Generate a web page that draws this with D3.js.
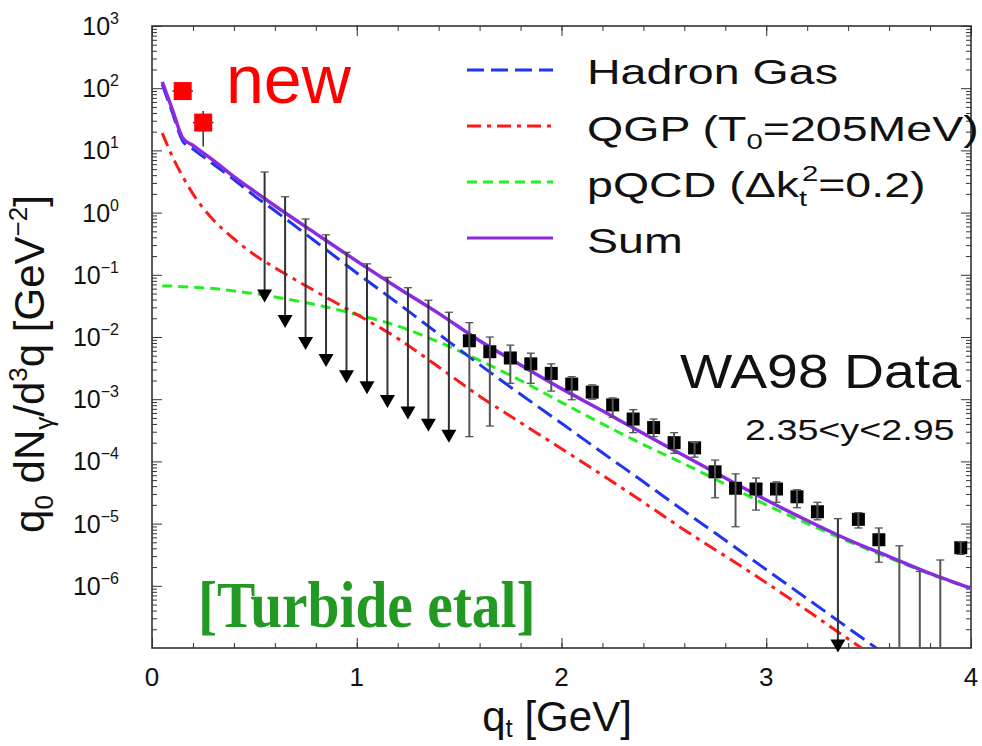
<!DOCTYPE html>
<head>
  <meta charset="utf-8">
  <script src="https://d3js.org/d3.v7.min.js"></script>
  <style>
    body { margin:0; background:#fff; }
    text { font-family: "Liberation Sans", Arial, sans-serif; fill:#111; }
  </style>
</head>
<body>
<script>

/* Data */
/* ==== */

// theory curves
var qGrid     = [0.05, 0.1, 0.15, 0.2, 0.3, 0.4, 0.5, 0.6, 0.8, 1.0, 1.2, 1.4, 1.6, 1.8, 2.0, 2.2, 2.4, 2.6, 2.8, 3.0, 3.2, 3.4, 3.6, 3.8, 4.0];
var hadronGas = [115, 40, 14.1, 10.5, 6.0, 3.4, 1.86, 1.07, 0.34, 0.107, 0.035, 0.0112, 3.6e-3, 1.2e-3, 4.1e-4, 1.38e-4, 4.7e-5, 1.58e-5, 5.4e-6, 1.82e-6, 6.2e-7, 2.1e-7, 7.1e-8];
var qgp       = [19, 7.9, 3.8, 2.0, 0.76, 0.38, 0.21, 0.13, 0.054, 0.023, 9.5e-3, 3.3e-3, 1.12e-3, 4.2e-4, 1.6e-4, 6.0e-5, 2.2e-5, 7.9e-6, 3.0e-6, 1.12e-6, 4.0e-7, 1.4e-7, 5.0e-8];
var pqcd      = [0.066, 0.066, 0.064, 0.063, 0.060, 0.055, 0.050, 0.044, 0.033, 0.023, 0.015, 8.3e-3, 4.2e-3, 2.0e-3, 8.9e-4, 4.0e-4, 1.86e-4, 9.1e-5, 4.3e-5, 2.0e-5, 1.0e-5, 5.2e-6, 2.8e-6, 1.55e-6, 8.9e-7];
var sumCurve  = [126, 45, 15.8, 12.0, 6.9, 3.8, 2.2, 1.29, 0.46, 0.166, 0.062, 0.024, 8.7e-3, 3.55e-3, 1.48e-3, 6.5e-4, 2.8e-4, 1.23e-4, 5.4e-5, 2.4e-5, 1.12e-5, 5.5e-6, 2.95e-6, 1.58e-6, 9.1e-7];

// WA98 points
var dataQ   = [1.55, 1.65, 1.75, 1.85, 1.95, 2.05, 2.15, 2.25, 2.35, 2.45, 2.55, 2.65, 2.75, 2.85, 2.95, 3.05, 3.15, 3.25, 3.45, 3.55, 3.95];
var dataVal = [8.7e-3, 5.8e-3, 4.6e-3, 3.7e-3, 2.6e-3, 1.75e-3, 1.3e-3, 8.1e-4, 4.8e-4, 3.5e-4, 2.0e-4, 1.65e-4, 6.8e-5, 3.7e-5, 3.6e-5, 3.6e-5, 2.7e-5, 1.55e-5, 1.17e-5, 5.5e-6, 4.1e-6];
var dataLo  = [2.5e-4, 3.7e-4, 1.8e-3, 1.8e-3, 1.35e-3, 9.8e-4, 1.0e-3, 5.1e-4, 2.9e-4, 2.5e-4, 1.35e-4, 1.17e-4, 2.6e-5, 8.9e-6, 1.65e-5, 2.2e-5, 1.8e-5, 1.15e-5, 8.5e-6, 2.4e-6, 3.2e-6];
var dataHi  = [1.7e-2, 1.0e-2, 7.4e-3, 5.5e-3, 3.7e-3, 2.3e-3, 1.7e-3, 1.05e-3, 6.8e-4, 4.8e-4, 2.9e-4, 2.0e-4, 1.05e-4, 6.3e-5, 5.4e-5, 4.7e-5, 3.5e-5, 2.2e-5, 1.5e-5, 8.5e-6, 5.1e-6];

// bars whose central value falls below the frame
var openQ  = [3.65, 3.75, 3.85];
var openHi = [4.4e-6, 1.7e-6, 2.6e-6];

// upper limits (arrows)
var limQ   = [0.55, 0.65, 0.75, 0.85, 0.95, 1.05, 1.15, 1.25, 1.35, 1.45, 3.35];
var limTop = [4.5, 1.8, 0.79, 0.44, 0.23, 0.15, 0.091, 0.062, 0.039, 0.025, 1.2e-5];
var limTip = [0.036, 0.014, 0.0062, 0.0033, 0.0018, 0.0012, 7.2e-4, 4.7e-4, 3.0e-4, 2.0e-4, 8.5e-8];

// "new" points
var newQ   = [0.15, 0.25];
var newVal = [90, 28];
var newLo  = [78, 11.5];
var newHi  = [104, 43];
var newDq  = 0.05;

var xMajor = [0, 1, 2, 3, 4];
var yExp   = [3, 2, 1, 0, -1, -2, -3, -4, -5, -6];


/* Set up */
/* ====== */

var width = 982, height = 746;
var L = 152, R = 971, T = 26, B = 648;

var svg = d3.select('body').append('svg')
    .attr('width', width)
    .attr('height', height);

var x = d3.scaleLinear().domain([0, 4]).range([L, R]);
var y = d3.scaleLog().domain([1e-7, 1e3]).range([B, T]);

svg.append('clipPath').attr('id', 'plot')
  .append('rect').attr('x', L).attr('y', T).attr('width', R - L).attr('height', B - T);

var minorX = d3.range(0, 4.001, 0.2);
var minorY = [];
yExp.concat([-7]).forEach(function(e) {
  for (var k = 2; k <= 9; k++) if (e < 3) minorY.push(k * Math.pow(10, e));
});
var majorY = yExp.map(function(e) { return Math.pow(10, e); });

// ticks on all four sides, pointing in
function ticks(axis, tr) {
  var g = svg.append('g').attr('transform', tr).call(axis);
  g.select('.domain').remove();
  g.selectAll('line').attr('stroke', '#333').attr('stroke-width', 1);
  g.selectAll('text').remove();
}
ticks(d3.axisBottom(x).tickValues(xMajor).tickSize(-10), 'translate(0,' + B + ')');
ticks(d3.axisBottom(x).tickValues(minorX).tickSize(-5), 'translate(0,' + B + ')');
ticks(d3.axisTop(x).tickValues(xMajor).tickSize(-10), 'translate(0,' + T + ')');
ticks(d3.axisTop(x).tickValues(minorX).tickSize(-5), 'translate(0,' + T + ')');
ticks(d3.axisLeft(y).tickValues(majorY).tickSize(-10), 'translate(' + L + ',0)');
ticks(d3.axisLeft(y).tickValues(minorY).tickSize(-5), 'translate(' + L + ',0)');
ticks(d3.axisRight(y).tickValues(majorY).tickSize(-10), 'translate(' + R + ',0)');
ticks(d3.axisRight(y).tickValues(minorY).tickSize(-5), 'translate(' + R + ',0)');

svg.append('rect')
    .attr('x', L).attr('y', T).attr('width', R - L).attr('height', B - T)
    .attr('fill', 'none').attr('stroke', '#333').attr('stroke-width', 1.6);

// tick labels
svg.selectAll('.xlab').data(xMajor).enter().append('text')
    .attr('x', function(d) { return x(d); })
    .attr('y', 686)
    .attr('text-anchor', 'middle')
    .attr('font-size', 26)
    .text(function(d) { return d; });

var ylab = svg.selectAll('.ylab').data(yExp).enter().append('text')
    .attr('x', 119)
    .attr('y', function(d) { return y(Math.pow(10, d)) + 9; })
    .attr('text-anchor', 'end')
    .attr('font-size', 25);
ylab.append('tspan').text('10');
ylab.append('tspan').attr('font-size', 16).attr('dy', -11)
    .text(function(d) { return d < 0 ? '\u2212' + (-d) : d; });

// axis titles
var xt = svg.append('text').attr('x', 557).attr('y', 731)
    .attr('text-anchor', 'middle').attr('font-size', 42);
xt.append('tspan').text('q');
xt.append('tspan').attr('font-size', 26).attr('dy', 6).text('t');
xt.append('tspan').attr('dy', -6).text(' [GeV]');

var yt = svg.append('text').attr('transform', 'translate(44,364) rotate(-90)')
    .attr('text-anchor', 'middle').attr('font-size', 42);
yt.append('tspan').text('q');
yt.append('tspan').attr('font-size', 26).attr('dy', 9).text('0');
yt.append('tspan').attr('dy', -9).text(' dN');
yt.append('tspan').attr('font-size', 26).attr('dy', 9).text('\u03b3');
yt.append('tspan').attr('dy', -9).text('/d');
yt.append('tspan').attr('font-size', 26).attr('dy', -17).text('3');
yt.append('tspan').attr('dy', 17).text('q [GeV');
yt.append('tspan').attr('font-size', 26).attr('dy', -17).text('\u22122');
yt.append('tspan').attr('dy', 17).text(']');


/* Curves */
/* ====== */

var styles = [
  {vals: pqcd,      color: '#22ee22', dash: '10,6'},
  {vals: qgp,       color: '#ff1a1a', dash: '14,6,4,6'},
  {vals: hadronGas, color: '#1f35f0', dash: '17,7'},
  {vals: sumCurve,  color: '#8a2be2', dash: null}
];

var line = d3.line()
    .x(function(d) { return x(d[0]); })
    .y(function(d) { return y(d[1]); })
    .curve(d3.curveMonotoneX);

var curves = svg.append('g').attr('clip-path', 'url(#plot)');
styles.forEach(function(s) {
  var pts = s.vals.map(function(v, i) { return [qGrid[i], v]; });
  curves.append('path')
      .attr('d', line(pts))
      .attr('fill', 'none')
      .attr('stroke', s.color)
      .attr('stroke-width', s.dash ? 3 : 3.5)
      .attr('stroke-dasharray', s.dash);
});


/* Data points */
/* =========== */

var pts = svg.append('g');
var bar = '#555';

function cap(g, q, v) {
  g.append('line').attr('x1', x(q) - 4).attr('x2', x(q) + 4)
      .attr('y1', y(v)).attr('y2', y(v))
      .attr('stroke', bar).attr('stroke-width', 1.3);
}

// upper limits
limQ.forEach(function(q, i) {
  pts.append('line')
      .attr('x1', x(q)).attr('x2', x(q))
      .attr('y1', y(limTop[i])).attr('y2', y(limTip[i]) - 8)
      .attr('stroke', '#333').attr('stroke-width', 2);
  cap(pts, q, limTop[i]);
  var tx = x(q), ty = y(limTip[i]);
  pts.append('path')
      .attr('d', 'M' + (tx - 7.5) + ',' + (ty - 13) + 'L' + (tx + 7.5) + ',' + (ty - 13) + 'L' + tx + ',' + ty + 'Z')
      .attr('fill', '#000');
});

// open bars
var clipped = svg.append('g').attr('clip-path', 'url(#plot)');
openQ.forEach(function(q, i) {
  clipped.append('line')
      .attr('x1', x(q)).attr('x2', x(q))
      .attr('y1', y(openHi[i])).attr('y2', B + 5)
      .attr('stroke', bar).attr('stroke-width', 2);
  cap(clipped, q, openHi[i]);
});

// WA98 squares
dataQ.forEach(function(q, i) {
  clipped.append('line')
      .attr('x1', x(q)).attr('x2', x(q))
      .attr('y1', y(dataHi[i])).attr('y2', y(dataLo[i]))
      .attr('stroke', bar).attr('stroke-width', 2);
  cap(clipped, q, dataHi[i]);
  cap(clipped, q, dataLo[i]);
});
pts.selectAll('.sq').data(dataQ).enter().append('rect')
    .attr('x', function(d) { return x(d) - 6.5; })
    .attr('y', function(d, i) { return y(dataVal[i]) - 6.5; })
    .attr('width', 13).attr('height', 13)
    .attr('fill', '#000');

// new points
newQ.forEach(function(q, i) {
  pts.append('line')
      .attr('x1', x(q - newDq)).attr('x2', x(q + newDq))
      .attr('y1', y(newVal[i])).attr('y2', y(newVal[i]))
      .attr('stroke', '#333').attr('stroke-width', 1.5);
  pts.append('line')
      .attr('x1', x(q)).attr('x2', x(q))
      .attr('y1', y(newHi[i])).attr('y2', y(newLo[i]))
      .attr('stroke', '#333').attr('stroke-width', 1.5);
  pts.append('rect')
      .attr('x', x(q) - 9).attr('y', y(newVal[i]) - 9)
      .attr('width', 18).attr('height', 18)
      .attr('fill', '#ff0000');
});


/* Annotations and legend */
/* ====================== */

function label(px, py, size, sx) {
  return svg.append('text')
      .attr('transform', 'translate(' + px + ',' + py + ') scale(' + sx + ',1)')
      .attr('font-size', size);
}

label(226, 103, 68, 1).style('fill', '#ff0000').text('new');
label(680, 388, 49, 1.13).text('WA98 Data');
label(745, 440, 29, 1.3).text('2.35<y<2.95');
label(198, 627, 66, 0.87)
    .style('font-family', '"Liberation Serif", "Times New Roman", serif')
    .style('font-weight', 'bold')
    .style('fill', '#229922')
    .text('[Turbide etal]');

var legY = [70, 126, 182, 238];
[2, 1, 0, 3].forEach(function(si, k) {
  var s = styles[si];
  svg.append('line')
      .attr('x1', 467).attr('x2', 553)
      .attr('y1', legY[k]).attr('y2', legY[k])
      .attr('stroke', s.color)
      .attr('stroke-width', 3)
      .attr('stroke-dasharray', s.dash);
});

label(587, 84, 35, 1.33).text('Hadron Gas');
var lq = label(587, 141, 35, 1.33);
lq.append('tspan').text('QGP (T');
lq.append('tspan').attr('font-size', 22).attr('dy', 8).text('0');
lq.append('tspan').attr('dy', -8).text('=205MeV)');
var lp = label(587, 197, 35, 1.33);
lp.append('tspan').text('pQCD (\u0394k');
lp.append('tspan').attr('font-size', 22).attr('dy', 9).text('t');
lp.append('tspan').attr('font-size', 22).attr('dx', -4).attr('dy', -25).text('2');
lp.append('tspan').attr('dy', 16).text('=0.2)');
label(587, 253, 35, 1.33).text('Sum');

</script>
</body>
